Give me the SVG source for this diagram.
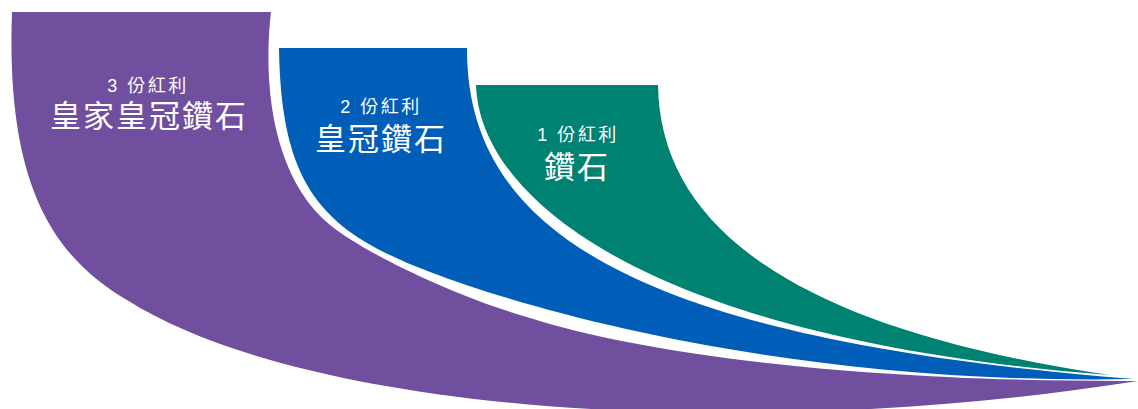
<svg xmlns="http://www.w3.org/2000/svg" width="1138" height="409" viewBox="0 0 1138 409">
<style>
.sub{font-family:"Liberation Sans","Noto Sans CJK TC",sans-serif;font-size:18px;fill:#ffffff;text-anchor:middle;letter-spacing:2.5px}
.ttl{font-family:"Liberation Sans","Noto Sans CJK TC",sans-serif;font-size:31px;fill:#ffffff;text-anchor:middle;letter-spacing:2px}
</style>
<rect width="1138" height="409" fill="#ffffff"/>
<g id="tier3">
<path d="M12,12 L271,12 C262,90 275,180 330,225 C360,250 450,295 530,318 C640,353 850,382 1138,381 C730,445 300,410 127,300 C50,255 6,180 12,12 Z" fill="#6F4F9E"/>
<text class="sub" x="148" y="92">3 份紅利</text>
<text class="ttl" x="149" y="127">皇家皇冠鑽石</text>
</g>
<g id="tier2">
<path d="M279,48 L467,48 C466,236 645,340 1133,379 C830,385 570,325 430,272 C325,232 281,190 279,48 Z" fill="#005EB8"/>
<text class="sub" x="381" y="113">2 份紅利</text>
<text class="ttl" x="381" y="150">皇冠鑽石</text>
</g>
<g id="tier1">
<path d="M476,85 L658,85 C660,230 800,330 1110,375 C650,340 480,200 476,85 Z" fill="#008272"/>
<text class="sub" x="578" y="141">1 份紅利</text>
<text class="ttl" x="577" y="178">鑽石</text>
</g>
<g id="connectors"></g>
</svg>
